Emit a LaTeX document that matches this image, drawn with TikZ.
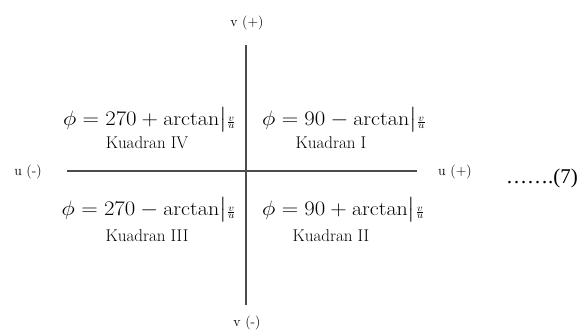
\documentclass[tikz,border=0pt]{standalone}
\usepackage{amsmath}
\usepackage{fontspec}
\newfontfamily\timesfont{Liberation Serif}
\newcommand{\fml}[1]{\scalebox{1.1}[1]{$#1$}}
\newcommand{\vufrac}{\bigl|\genfrac{}{}{0.4pt}{3}{v}{u}}
\tikzset{
  axis/.style={draw=black!70, line width=1.5pt},
  axlabel/.style={font=\fontsize{14}{16}\selectfont, inner sep=0pt},
  formula/.style={font=\fontsize{20}{24}\selectfont, inner sep=0pt},
  quad/.style={font=\fontsize{17}{19}\selectfont, inner sep=0pt}
}
\begin{document}
\begin{tikzpicture}[x=1pt,y=-1pt]
\useasboundingbox (0,0) rectangle (588,336);
\coordinate (vt) at (246,45);
\coordinate (vb) at (246,305);
\coordinate (hl) at (67,171);
\coordinate (hr) at (417,171);
\draw[axis] (vt) -- (vb);
\draw[axis] (hl) -- (hr);
\node[axlabel] (vp) at (247,23) {v (+)};
\node[axlabel] (vm) at (247,323) {v (-)};
\node[axlabel] (um) at (28,172) {u (-)};
\node[axlabel] (up) at (455,172) {u (+)};
\node[formula, anchor=east] (f4) at (236,120) {\fml{\phi = 270 + \arctan\vufrac}};
\node[quad] (k4) at (147,143) {Kuadran IV};
\node[formula, anchor=west] (f1) at (262,120) {\fml{\phi = 90 - \arctan\vufrac}};
\node[quad] (k1) at (331,143) {Kuadran I};
\node[formula, anchor=east] (f3) at (236,210) {\fml{\phi = 270 - \arctan\vufrac}};
\node[quad] (k3) at (147,236) {Kuadran III};
\node[formula, anchor=west] (f2) at (262,210) {\fml{\phi = 90 + \arctan\vufrac}};
\node[quad] (k2) at (331,236) {Kuadran II};
\node[font=\timesfont\fontsize{21}{24}\selectfont, inner sep=0pt, anchor=east] (eq) at (578,178) {…….(7)};
\end{tikzpicture}
\end{document}
